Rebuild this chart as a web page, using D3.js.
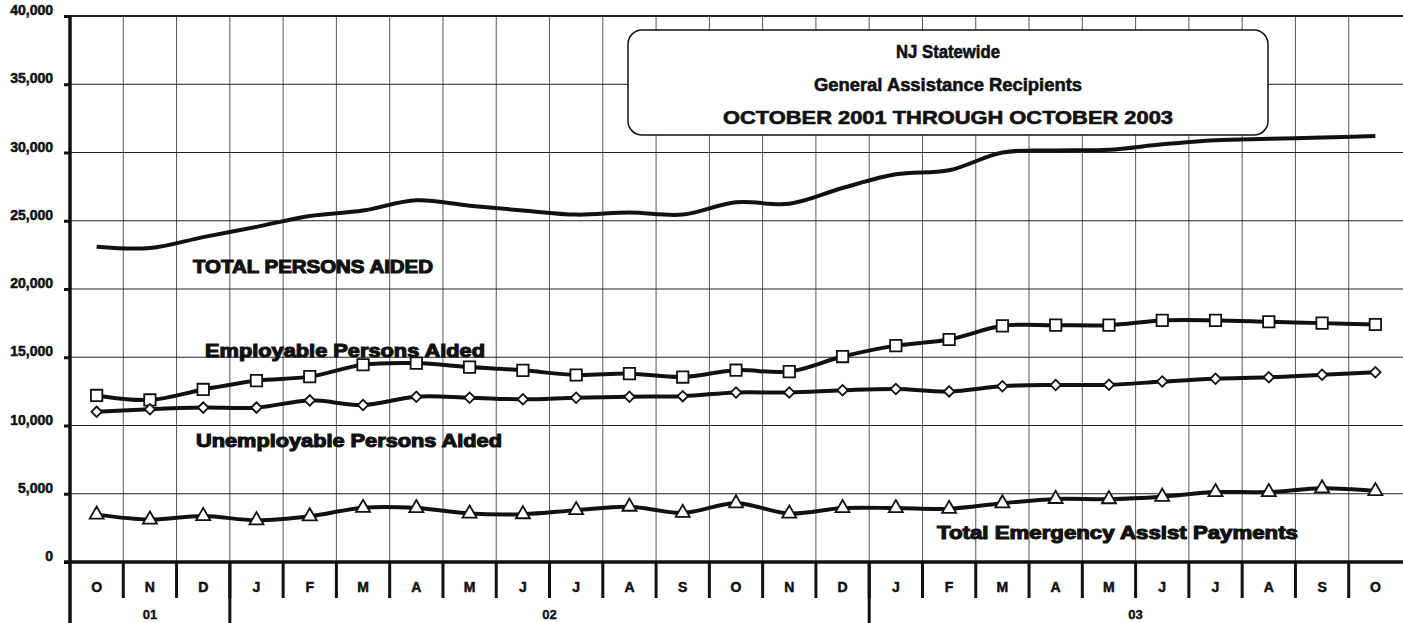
<!DOCTYPE html>
<html>
<head>
<meta charset="utf-8">
<script src="https://cdn.jsdelivr.net/npm/d3@7"></script>
<style>
  body { margin: 0; background: #fff; }
  text { font-family: "Liberation Sans", Arial, sans-serif; font-weight: bold; fill: #111; }
</style>
</head>
<body>
<script>
const width = 1403;
const height = 623;

// months Oct 2001 .. Oct 2003
const months = ['O','N','D','J','F','M','A','M','J','J','A','S','O','N','D','J','F','M','A','M','J','J','A','S','O'];
const yearLabels = ['01', '02', '03'];
const yearSpans = [3, 12, 10];
const yTicks = [0, 5000, 10000, 15000, 20000, 25000, 30000, 35000, 40000];

const totalAided = [23100, 23000, 23800, 24550, 25350, 25750, 26500, 26100, 25750, 25450, 25600, 25450, 26350,
                    26250, 27400, 28400, 28700, 30000, 30150, 30200, 30600, 30900, 31000, 31100, 31200];
const employable = [12200, 11870, 12640, 13290, 13580, 14450, 14570, 14280, 14040, 13700, 13800, 13550, 14050,
                    13950, 15050, 15850, 16300, 17300, 17350, 17350, 17700, 17700, 17600, 17500, 17400];
const unemployable = [11000, 11190, 11310, 11310, 11840, 11500, 12110, 12040, 11920, 12040, 12110, 12150, 12420,
                      12420, 12580, 12680, 12500, 12880, 12970, 12980, 13220, 13430, 13530, 13720, 13900];
const emergency = [3470, 3110, 3370, 3060, 3350, 3970, 3950, 3550, 3500, 3800, 4050, 3600, 4300,
                   3550, 3950, 3950, 3900, 4300, 4620, 4600, 4780, 5120, 5120, 5400, 5200];

const plotLeft = 70, plotTop = 16, plotBottom = 562;

const x = d3.scaleBand()
  .domain(months.map((m, i) => i))
  .range([plotLeft, width - 1]);
const y = d3.scaleLinear()
  .domain([0, 40000])
  .range([plotBottom, plotTop]);

const svg = d3.select('body').append('svg')
  .attr('width', width)
  .attr('height', height);

// grid - vertical lines on month boundaries
svg.append('g')
  .selectAll('line')
  .data(months.slice(1).map((m, i) => i + 1))
  .enter().append('line')
  .attr('x1', d => x(d)).attr('x2', d => x(d))
  .attr('y1', plotTop).attr('y2', plotBottom)
  .attr('stroke', '#444').attr('stroke-width', 0.9);

// grid - horizontal
svg.append('g')
  .selectAll('line')
  .data(yTicks.slice(1))
  .enter().append('line')
  .attr('x1', plotLeft).attr('x2', width)
  .attr('y1', d => y(d)).attr('y2', d => y(d))
  .attr('stroke', '#222').attr('stroke-width', d => d === 40000 ? 1.8 : 1.2);

// y axis
const yAxis = svg.append('g')
  .attr('transform', `translate(${plotLeft},0)`)
  .call(d3.axisLeft(y).tickValues(yTicks).tickSize(6).tickFormat(d3.format(',')));
yAxis.select('.domain').remove();
yAxis.selectAll('.tick line').attr('stroke', '#111').attr('stroke-width', 3);
yAxis.selectAll('.tick text')
  .attr('x', -17)
  .attr('dy', '-0.1em')
  .style('font-size', '14px')
  .style('font-family', '"Liberation Sans", Arial, sans-serif')
  .style('font-weight', 'bold')
  .style('stroke', '#111')
  .style('stroke-width', 0.5)
  .attr('fill', '#111');

svg.append('line')
  .attr('x1', plotLeft).attr('x2', plotLeft)
  .attr('y1', plotTop).attr('y2', height)
  .attr('stroke', '#111').attr('stroke-width', 3.5);

// x axis line
svg.append('line')
  .attr('x1', plotLeft - 6).attr('x2', width)
  .attr('y1', plotBottom).attr('y2', plotBottom)
  .attr('stroke', '#111').attr('stroke-width', 3.5);

// month cell separators
svg.append('g')
  .selectAll('line')
  .data(months.slice(1).map((m, i) => i + 1))
  .enter().append('line')
  .attr('x1', d => x(d)).attr('x2', d => x(d))
  .attr('y1', plotBottom).attr('y2', plotBottom + 36)
  .attr('stroke', '#111').attr('stroke-width', 3);

svg.append('g')
  .selectAll('text')
  .data(months)
  .enter().append('text')
  .attr('x', (d, i) => x(i) + x.bandwidth() / 2)
  .attr('y', plotBottom + 30)
  .attr('text-anchor', 'middle')
  .style('font-size', '14px')
  .style('stroke', '#111')
  .style('stroke-width', 0.5)
  .text(d => d);

// year groups
let start = 0;
const yearGroups = yearLabels.map((label, k) => {
  const g = { label, first: start, last: start + yearSpans[k] - 1 };
  start += yearSpans[k];
  return g;
});
svg.append('g')
  .selectAll('line')
  .data(yearGroups.slice(1))
  .enter().append('line')
  .attr('x1', d => x(d.first)).attr('x2', d => x(d.first))
  .attr('y1', plotBottom).attr('y2', height)
  .attr('stroke', '#111').attr('stroke-width', 3);
svg.append('g')
  .selectAll('text')
  .data(yearGroups)
  .enter().append('text')
  .attr('x', d => (x(d.first) + x(d.last) + x.bandwidth()) / 2)
  .attr('y', plotBottom + 57)
  .attr('text-anchor', 'middle')
  .style('font-size', '13px')
  .style('stroke', '#111')
  .style('stroke-width', 0.4)
  .text(d => d.label);

// series lines
const line = d3.line()
  .x((d, i) => x(i) + x.bandwidth() / 2)
  .y(d => y(d))
  .curve(d3.curveCatmullRom.alpha(0.5));

[totalAided, employable, unemployable, emergency].forEach(s => {
  svg.append('path')
    .datum(s)
    .attr('d', line)
    .attr('fill', 'none')
    .attr('stroke', '#111')
    .attr('stroke-width', 4)
    .attr('stroke-linejoin', 'round');
});

function markers(data, type, size) {
  svg.append('g')
    .selectAll('path')
    .data(data)
    .enter().append('path')
    .attr('transform', (d, i) => `translate(${x(i) + x.bandwidth() / 2},${y(d)})${type === 'diamond' ? ' rotate(45)' : ''}`)
    .attr('d', d3.symbol().type(type === 'triangle' ? d3.symbolTriangle : d3.symbolSquare).size(size))
    .attr('fill', '#fff')
    .attr('stroke', '#111')
    .attr('stroke-width', 1.8);
}
markers(employable, 'square', 130);
markers(unemployable, 'diamond', 55);
markers(emergency, 'triangle', 85);

// series labels
function heavyLabel(txt, lx, ly, len) {
  svg.append('text')
    .attr('x', lx).attr('y', ly)
    .attr('textLength', len)
    .attr('lengthAdjust', 'spacingAndGlyphs')
    .style('font-size', '18px')
    .style('stroke', '#111')
    .style('stroke-width', 1.1)
    .text(txt);
}
heavyLabel('TOTAL PERSONS AIDED', 193, 273, 240);
heavyLabel('Employable Persons Aided', 205, 357, 280);
heavyLabel('Unemployable Persons Aided', 196, 447, 306);
heavyLabel('Total Emergency Assist Payments', 937, 539, 361);

// title box
svg.append('rect')
  .attr('x', 628).attr('y', 30)
  .attr('width', 640).attr('height', 105)
  .attr('rx', 14)
  .attr('fill', '#fff')
  .attr('stroke', '#111')
  .attr('stroke-width', 1.5);

const titles = ['NJ Statewide', 'General Assistance Recipients', 'OCTOBER 2001 THROUGH OCTOBER 2003'];
const titleWidths = [104, 268, 450];
svg.append('g')
  .selectAll('text')
  .data(titles)
  .enter().append('text')
  .attr('x', 948)
  .attr('y', (d, i) => 58 + i * 33)
  .attr('text-anchor', 'middle')
  .attr('textLength', (d, i) => titleWidths[i])
  .attr('lengthAdjust', 'spacingAndGlyphs')
  .style('font-size', '18px')
  .style('stroke', '#111')
  .style('stroke-width', 0.6)
  .text(d => d);
</script>
</body>
</html>
